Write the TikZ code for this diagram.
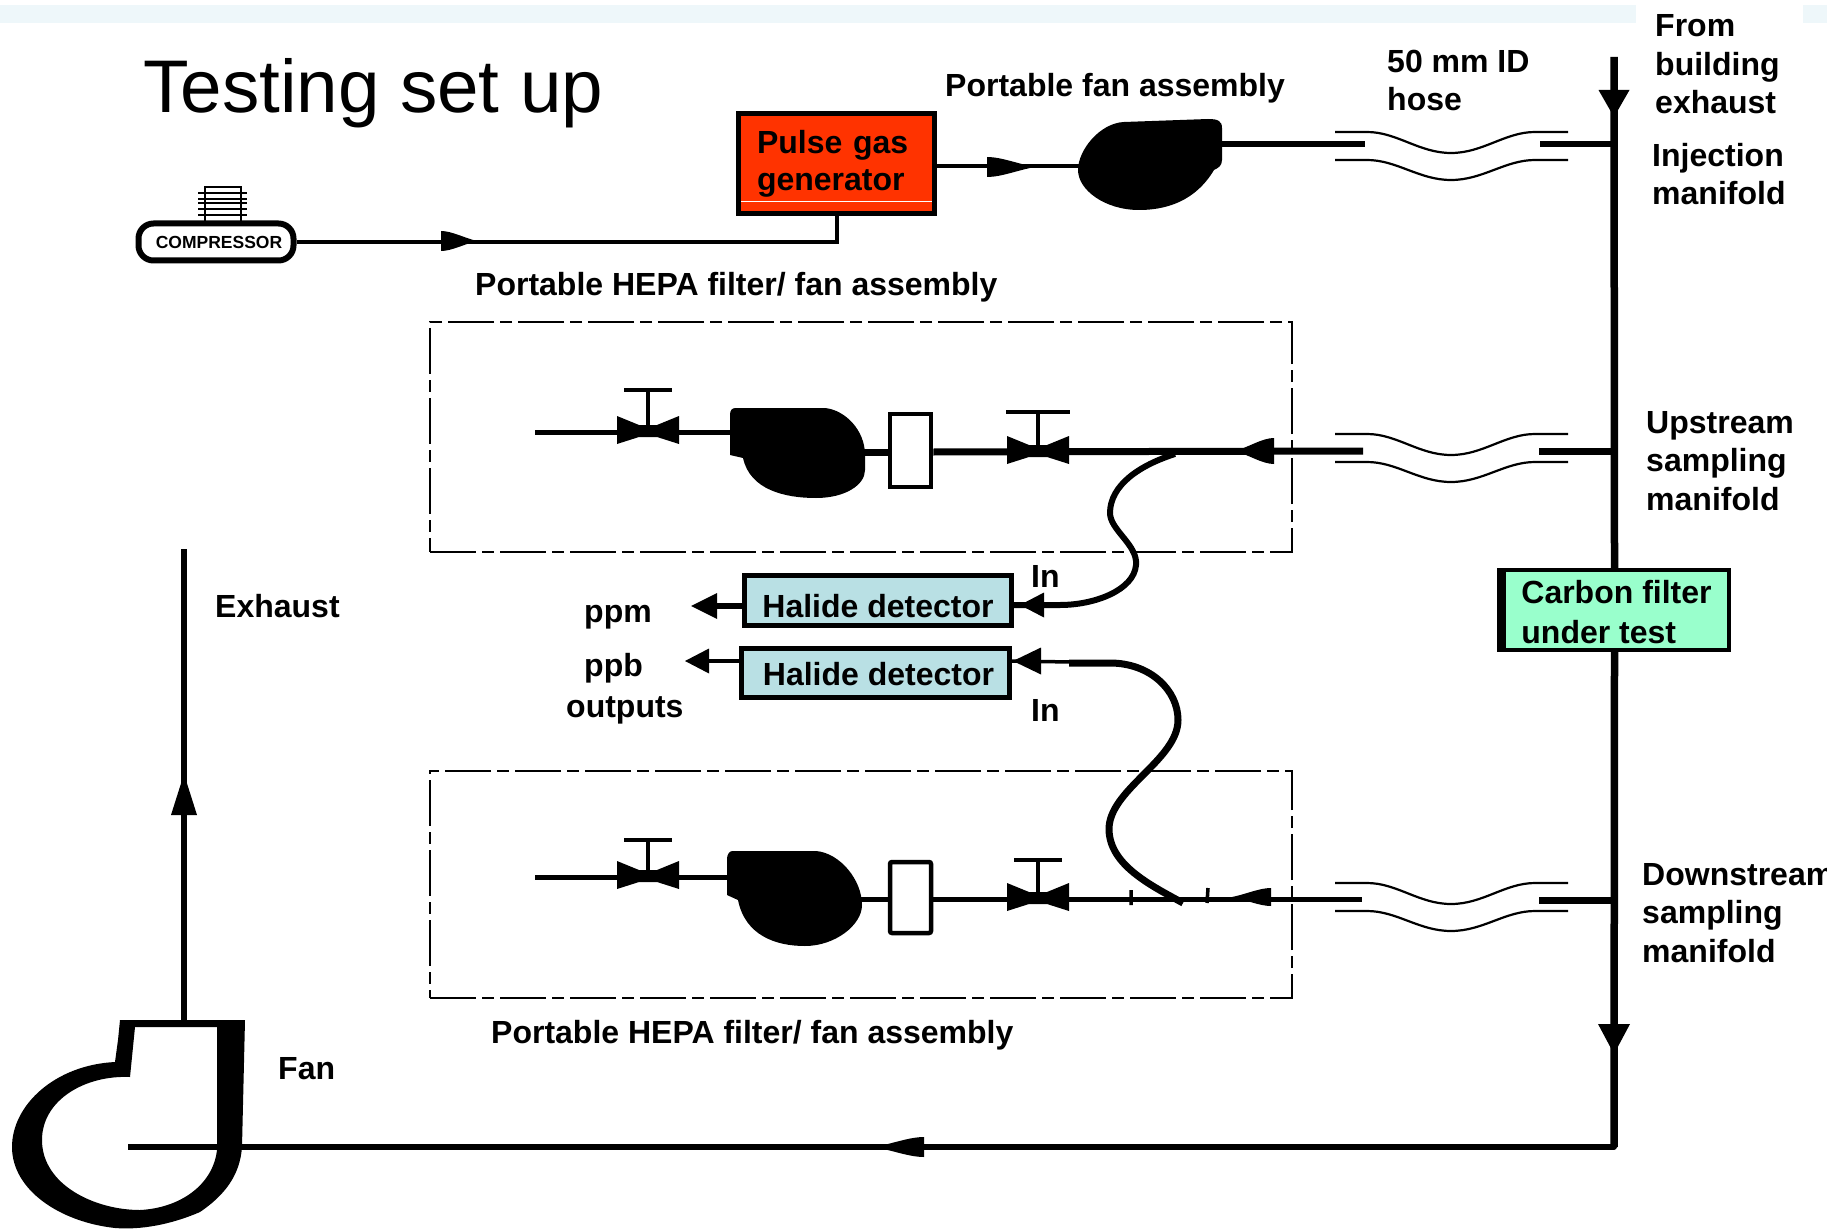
\documentclass[tikz,border=0pt]{standalone}
\usepackage{fontspec}
\setmainfont{Liberation Sans}
\tikzset{
  pipe/.style={line width=5.5pt,line cap=butt,line join=round},
  thinpipe/.style={line width=3.5pt},
  thickpipe/.style={line width=7pt},
  hoseline/.style={line width=2.2pt},
  lab/.style={font=\fontsize{32}{38.5}\selectfont\bfseries,anchor=base west,inner sep=0pt,align=left},
  hepabox/.style={draw,line width=2.4pt,dash pattern=on 46pt off 6pt on 12pt off 6pt,minimum width=862pt,inner sep=0pt},
  detbox/.style={draw,line width=5pt,fill=detcol,inner sep=0pt,font=\fontsize{32}{38.5}\selectfont\bfseries},
  filterbox/.style={draw,line width=4.5pt,minimum width=41pt,inner sep=0pt},
  pics/tri/.style={code={\fill (0,0) -- (-1,.5) -- (-1,-.5) -- cycle;}},
  pics/bullet/.style={code={\fill (0,0) .. controls (-.35,.15) and (-.7,.5) .. (-1,.5) -- (-1,-.5) .. controls (-.7,-.5) and (-.35,-.15) .. (0,0) -- cycle;}},
  pics/hose/.style={code={
    \draw[hoseline] (0,0) -- (32,0) .. controls (62,0) and (84,21) .. (116,21) .. controls (148,21) and (170,0) .. (200,0) -- (233,0);
    \draw[hoseline] (0,28) -- (32,28) .. controls (62,28) and (84,48) .. (116,48) .. controls (148,48) and (170,28) .. (200,28) -- (233,28);
  }},
  pics/valve/.style n args={2}{code={
    \fill (-31,-16) -- (-9,-7) -- (9,-7) -- (31,-16) -- (31,12) -- (9,5) -- (-9,5) -- (-31,12) -- cycle;
    \draw[line width=3.5pt] (0,0) -- (0,-#1);
    \draw[line width=4.5pt] (-#2,-#1) -- (#2,-#1);
  }},
}
\definecolor{detcol}{HTML}{B9E0E4}
\definecolor{pulsecol}{HTML}{FF3300}
\definecolor{carboncol}{HTML}{99FFCC}
\definecolor{bandcol}{HTML}{EEF7FA}
\begin{document}
\begin{tikzpicture}[x=1pt,y=-1pt]
\useasboundingbox (0,0) rectangle (1827,1230);
\fill[white] (0,0) rectangle (1827,1230);
\fill[bandcol] (0,5) rectangle (1636,23);
\fill[bandcol] (1803,5) rectangle (1827,23);

% title
\node[anchor=base west,inner sep=0pt,font=\fontsize{74.6}{80}\selectfont] (title) at (143,113) {Testing set up};

% named ports
\coordinate (pfanin) at (1080,166);
\coordinate (pfanout) at (1220,144);
\coordinate (hoseAl) at (1365,144);
\coordinate (hoseAr) at (1540,144);
\coordinate (maniA) at (1614,144);
\coordinate (maniTop) at (1614,57);
\coordinate (hoseBl) at (1363,451);
\coordinate (hoseBr) at (1539,451);
\coordinate (maniB) at (1614,451);
\coordinate (hoseCl) at (1362,899);
\coordinate (hoseCr) at (1539,900);
\coordinate (maniC) at (1614,900);
\coordinate (maniBot) at (1614,1147);
\coordinate (fanIn) at (128,1147);
\coordinate (fanOut) at (184,1020);
\coordinate (exhTop) at (184,549);
\coordinate (lineA1) at (535,432);
\coordinate (fanAin) at (732,432);
\coordinate (fanAout) at (864,452);
\coordinate (lineC1) at (535,877);
\coordinate (fanBin) at (730,877);
\coordinate (fanBout) at (860,899);
\coordinate (tapA) at (1175,454);
\coordinate (tapB) at (1183,903);
\coordinate (tipA) at (1014,605);
\coordinate (tipB) at (1012,661);

% compressor
\foreach \yy in {193,199,203,209,215} \draw[line width=2pt] (198,\yy) -- (247,\yy);
\draw[line width=2pt] (205,222) -- (205,187) -- (241,187) -- (241,222);
\node[draw,line width=6pt,rounded corners=15pt,fill=white,minimum width=155pt,minimum height=37pt,inner sep=0pt,font=\fontsize{17.5}{18}\selectfont\bfseries] (comp) at (216,242) {\hspace*{6pt}COMPRESSOR};

% pulse gas generator
\node[draw,line width=5.5pt,fill=pulsecol,minimum width=196pt,minimum height=100pt,inner sep=0pt,text width=159pt,align=left,font=\fontsize{32}{37}\selectfont\bfseries] (pulse) at (836.5,163.5) {Pulse gas\\generator};
\draw[white,line width=1pt] (741,202) -- (932,202);

% portable fan
\fill (1208,119) .. controls (1218,119) and (1222,121) .. (1222,128) -- (1222,160) .. controls (1222,166) and (1218,168) .. (1214,170) .. controls (1205,185) and (1185,210) .. (1139,210) .. controls (1105,210) and (1078,190) .. (1078,170) .. controls (1078,150) and (1100,123) .. (1124,122) -- cycle;

% lines: compressor to pulse to fan to manifold
\draw[line width=4pt] (comp.east) -| (pulse.south);
\pic[xscale=36,yscale=20] at (477,241) {bullet};
\draw[line width=3.5pt] (pulse.east |- pfanin) -- (pfanin);
\pic[xscale=48,yscale=20] at (1035,167) {bullet};
\draw[line width=6pt] (pfanout) -- (hoseAl);
\draw[line width=6pt] (hoseAr) -- (maniA);
\pic at (1335,132) {hose};
\pic at (1335,434) {hose};
\pic at (1335,883) {hose};

% manifold
\node[draw,line width=3.5pt,fill=carboncol,minimum width=229pt,minimum height=80pt,inner sep=0pt,align=left,font=\fontsize{32}{40}\selectfont\bfseries] (carbon) at (1614.5,610) {\rule{0pt}{28pt}\hspace*{4pt}Carbon filter\\\hspace*{4pt}under test};
\fill (1497,568) rectangle (1506,652);
\draw[line width=7.5pt] (maniTop) -- (carbon.north);
\draw[line width=7.5pt] (carbon.south) -- (maniBot);
\pic[rotate=-90,xscale=27,yscale=31] at (1614,117) {tri};
\pic[rotate=-90,xscale=30,yscale=32] at (1614,1054) {tri};

% return to fan and exhaust
\draw[pipe,line join=round] (1614,1143) -- (maniBot) -- (fanIn);
\pic[xscale=50,yscale=20,rotate=180] at (874,1147) {bullet};
\draw[pipe] (fanOut) -- (exhTop);
\pic[rotate=90,xscale=41,yscale=26] at (184,774) {tri};

% large fan
\fill[even odd rule] (120,1020) -- (245,1020) -- (242,1147) .. controls (240,1175) and (225,1195) .. (200,1212) .. controls (170,1225) and (140,1230) .. (115,1228) .. controls (60,1222) and (12,1190) .. (12,1147) .. controls (12,1105) and (55,1065) .. (115,1062) -- (118,1040) -- cycle
 (135,1027) -- (130,1077) .. controls (85,1075) and (42,1100) .. (42,1140) .. controls (42,1185) and (95,1210) .. (140,1210) .. controls (180,1208) and (213,1185) .. (217,1150) -- (217,1027) -- cycle;

% HEPA box A
\node[hepabox,minimum height=230pt] (hepaA) at (861,437) {};
\draw[line width=5pt] (lineA1) -- (fanAin);
\pic at (648,432) {valve={42}{24}};
\fill (736,408) -- (825,408) .. controls (845,410) and (865,430) .. (865,455) -- (865,470) .. controls (865,485) and (845,498) .. (816,498) .. controls (785,498) and (750,490) .. (743,458) -- (730,455) -- (730,415) .. controls (730,410) and (732,408) .. (736,408) -- cycle;
\node[filterbox,minimum height=73pt] (filtA) at (910.5,450.5) {};
\draw[line width=7pt] (fanAout) -- (filtA.west |- fanAout);
\draw[line width=7pt] (filtA.east |- fanAout) -- (hoseBl);
\pic at (1038,452) {valve={40}{32}};
\pic[xscale=39,yscale=26,rotate=180] at (1235,451) {bullet};

% HEPA box B
\node[hepabox,minimum height=227pt] (hepaB) at (861,884.5) {};
\draw[line width=5pt] (lineC1) -- (fanBin);
\pic at (648,877) {valve={37}{24}};
\fill (733,851) -- (816,851) .. controls (840,853) and (862,880) .. (862,905) .. controls (862,925) and (835,946) .. (805,946) .. controls (775,946) and (745,935) .. (738,900) -- (727,895) -- (727,860) .. controls (727,853) and (730,851) .. (733,851) -- cycle;
\node[filterbox,minimum height=71pt,rounded corners=2pt] (filtB) at (910.5,897.5) {};
\draw[line width=5pt] (fanBout) -- (filtB.west |- fanBout);
\draw[line width=5pt] (filtB.east |- fanBout) -- (hoseCl);
\pic at (1038,899) {valve={39}{24}};
\pic[xscale=39,yscale=18,rotate=180] at (1232,897) {bullet};
\draw[line width=3.5pt] (1131,890) -- (1131,905) (1208,888) -- (1207,903);

% right stubs of hoses B, C
\draw[thickpipe] (hoseBr) -- (maniB);
\draw[thickpipe] (hoseCr) -- (maniC);

% detectors
\node[detbox,minimum width=267pt,minimum height=50pt,text height=33pt,text depth=0pt] (detA) at (878,600.5) {Halide detector};
\node[detbox,minimum width=268pt,minimum height=49pt,text height=28pt,text depth=4pt] (detB) at (875.5,673) {\hspace*{6pt}Halide detector};

% detector outputs
\coordinate (ppmEnd) at (717,606);
\coordinate (ppbEnd) at (709,661);
\draw[line width=6pt] (detA.west |- ppmEnd) -- (ppmEnd);
\pic[xscale=26,yscale=26,rotate=180] at (691,606) {tri};
\draw[line width=4.5pt] (detB.west |- ppbEnd) -- (ppbEnd);
\pic[xscale=24,yscale=25,rotate=180] at (685,661) {tri};

% sample lines
\draw[line width=6pt] (tapA) .. controls (1140,465) and (1110,485) .. (1110,513) .. controls (1110,530) and (1138,545) .. (1136,565) .. controls (1134,590) and (1095,605) .. (1060,605) -- (tipA);
\pic[xscale=24,yscale=25,rotate=180] at (1020,605) {tri};
\draw[thinpipe] (tipB) -- (1070,662);
\draw[line width=7pt] (1069,663) -- (1110,663) .. controls (1150,663) and (1178,690) .. (1178,720) .. controls (1178,760) and (1108,790) .. (1109,830) .. controls (1110,865) and (1150,885) .. (tapB);
\pic[xscale=28,yscale=27,rotate=180] at (1013,661) {tri};

% labels
\node[lab] (lfan) at (945,97) {Portable fan assembly};
\node[lab] (lhose) at (1387,111) {50 mm ID\\hose};
\node[lab] (lfrom) at (1655,114) {From\\building\\exhaust};
\node[lab] (linj) at (1652,205) {Injection\\manifold};
\node[lab] (lhepaA) at (475,296) {Portable HEPA filter/ fan assembly};
\node[lab] (lup) at (1646,510) {Upstream\\sampling\\manifold};
\node[lab] (lin1) at (1031,587) {In};
\node[lab] (lin2) at (1031,721) {In};
\node[lab] (lppm) at (584,622) {ppm};
\node[lab] (lppb) at (584,676) {ppb};
\node[lab] (lout) at (566,717) {outputs};
\node[lab] (lexh) at (215,617) {Exhaust};
\node[lab] (lfanb) at (278,1079) {Fan};
\node[lab] (ldown) at (1642,962) {Downstream\\sampling\\manifold};
\node[lab] (lhepaB) at (491,1043) {Portable HEPA filter/ fan assembly};
\end{tikzpicture}
\end{document}
